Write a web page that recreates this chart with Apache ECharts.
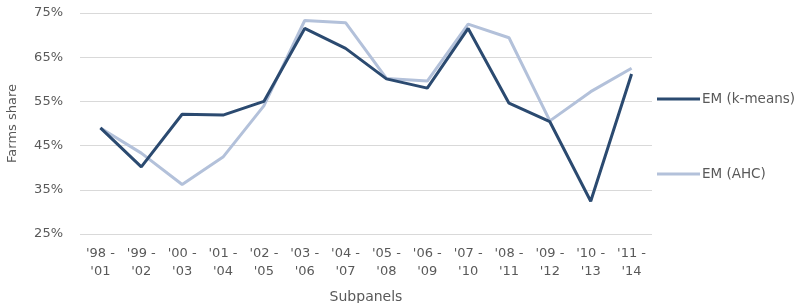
<!DOCTYPE html>
<html>
<head>
<meta charset="utf-8">
<script src="https://cdn.jsdelivr.net/npm/echarts@6/dist/echarts.min.js"></script>
<style>html,body{margin:0;padding:0;background:#fff;}#c{width:805px;height:303px;}</style>
</head>
<body>
<div id="c"></div>
<script>
var categories = ["'98 -\n'01","'99 -\n'02","'00 -\n'03","'01 -\n'04","'02 -\n'05","'03 -\n'06","'04 -\n'07","'05 -\n'08","'06 -\n'09","'07 -\n'10","'08 -\n'11","'09 -\n'12","'10 -\n'13","'11 -\n'14"];
var kmeans = [49.0, 40.2, 52.1, 51.9, 55.0, 71.5, 67.0, 60.1, 58.0, 71.5, 54.6, 50.4, 32.4, 61.2];
var ahc = [49.0, 43.3, 36.2, 42.4, 54.0, 73.3, 72.8, 60.2, 59.6, 72.5, 69.4, 50.6, 57.2, 62.5];
var yTicks = {min: 25, max: 75, interval: 10};

var font = 'DejaVu Sans, sans-serif';
var chart = echarts.init(document.getElementById('c'));
chart.setOption({
  animation: false,
  grid: {left: 80, right: 153, top: 13, bottom: 69, containLabel: false, outerBoundsMode: 'none'},
  legend: {
    orient: 'vertical', left: 657, top: 92, itemGap: 61, padding: 0,
    itemWidth: 43, itemHeight: 3, icon: 'rect',
    textStyle: {color: '#595959', fontSize: 13.5, fontFamily: font, padding: [0,0,0,-3]},
    data: ['EM (k-means)', 'EM (AHC)']
  },
  xAxis: {
    type: 'category', data: categories, boundaryGap: true,
    name: 'Subpanels', nameLocation: 'middle', nameGap: 56,
    nameTextStyle: {color: '#595959', fontSize: 14, fontFamily: font},
    axisLine: {show: false}, axisTick: {show: false},
    axisLabel: {color: '#595959', fontSize: 13, fontFamily: font, margin: 11, lineHeight: 18, interval: 0}
  },
  yAxis: {
    type: 'value', min: yTicks.min, max: yTicks.max, interval: yTicks.interval,
    name: 'Farms share', nameLocation: 'middle', nameGap: 61,
    nameTextStyle: {color: '#595959', fontSize: 13, fontFamily: font},
    axisLine: {show: false}, axisTick: {show: false},
    axisLabel: {color: '#595959', fontSize: 13, fontFamily: font, margin: 17, formatter: '{value}%'},
    splitLine: {lineStyle: {color: '#d9d9d9', width: 1}}
  },
  series: [
    {name: 'EM (k-means)', type: 'line', data: kmeans, showSymbol: false, symbol: 'none',
     lineStyle: {color: '#2b4a70', width: 3}, itemStyle: {color: '#2b4a70'}, z: 3},
    {name: 'EM (AHC)', type: 'line', data: ahc, showSymbol: false, symbol: 'none',
     lineStyle: {color: '#b3c1da', width: 3}, itemStyle: {color: '#b3c1da'}, z: 2}
  ]
});
</script>
</body>
</html>
